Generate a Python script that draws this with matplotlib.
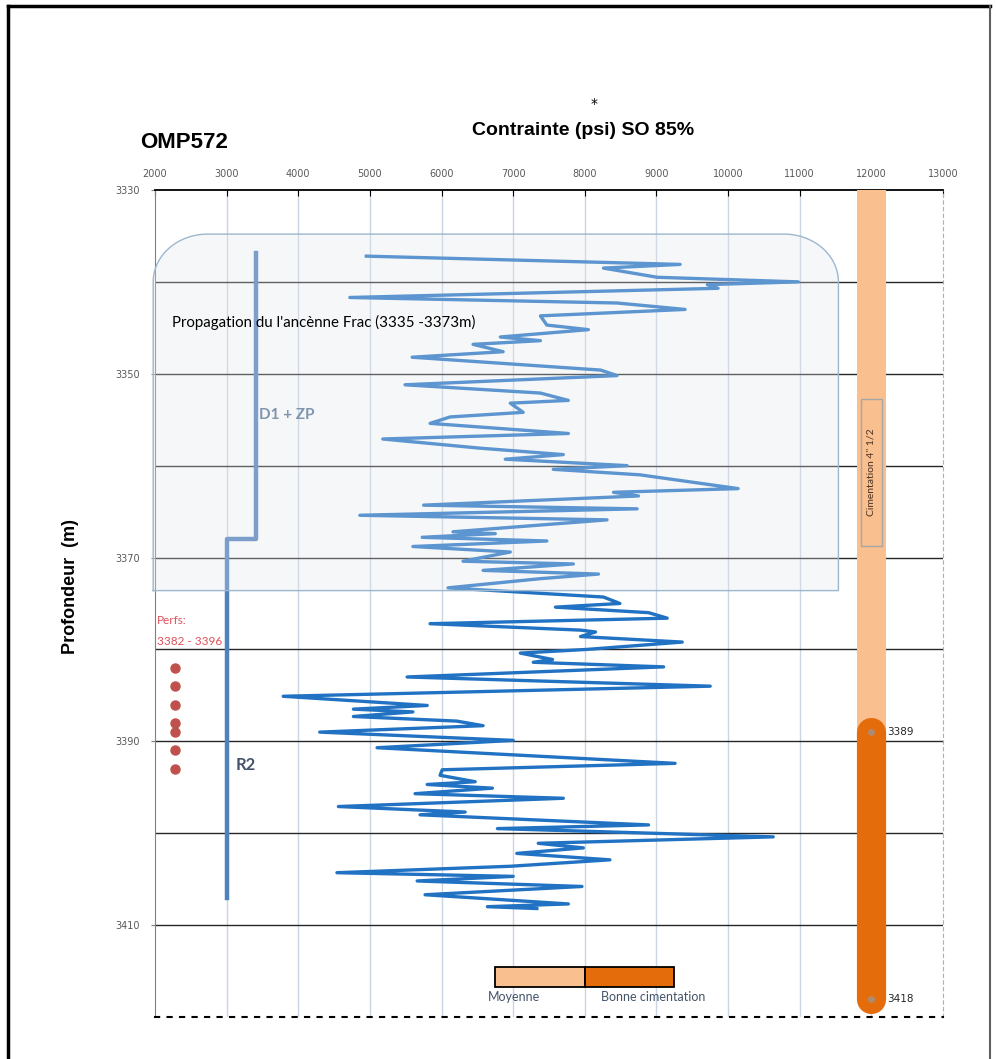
import matplotlib
matplotlib.use('Agg')
import matplotlib.pyplot as plt
from matplotlib.lines import Line2D
from matplotlib.patches import Rectangle
import numpy as np

# Stress log (psi) vs depth (m)
stress = [4950, 9330, 8260, 9010, 10980, 9710, 9860, 4720, 8450, 9400,
          7380, 7470, 8050, 6820, 7380, 6440, 6860, 5590, 8220, 8450,
          5490, 7380, 7770, 6960, 7140, 6120, 5840, 7770, 5180, 6540,
          7700, 6890, 8590, 7560, 8770, 10140, 8400, 8750, 5750, 8730,
          4860, 8310, 6160, 6750, 5730, 7470, 5600, 6960, 6300, 7840,
          6580, 8190, 7380, 6090, 8260, 8490, 7590, 8890, 9150, 5840,
          7940, 8150, 7940, 9360, 8030, 7100, 7550, 7280, 9100, 5520,
          9750, 3790, 5800, 4770, 5600, 4770, 6210, 6580, 4300, 7000,
          5100, 9260, 6010, 5980, 6470, 5800, 6710, 5630, 7700, 4560,
          6330, 5700, 8890, 6780, 10630, 7350, 7980, 7050, 8350, 6960,
          4540, 7000, 5660, 7960, 5770, 7770, 6640, 7330]
depth = [3337.2, 3338.1, 3338.5, 3339.5, 3340.0, 3340.3, 3340.7, 3341.7, 3342.3, 3343.0,
         3343.7, 3344.7, 3345.2, 3346.0, 3346.4, 3346.8, 3347.6, 3348.2, 3349.6, 3350.2,
         3351.2, 3352.1, 3352.9, 3353.2, 3354.2, 3354.7, 3355.4, 3356.5, 3357.1, 3358.1,
         3358.8, 3359.3, 3360.0, 3360.4, 3361.0, 3362.5, 3362.9, 3363.3, 3364.3, 3364.7,
         3365.4, 3365.9, 3367.2, 3367.4, 3367.8, 3368.2, 3368.8, 3369.4, 3370.4, 3370.7,
         3371.4, 3371.8, 3372.3, 3373.3, 3374.3, 3375.0, 3375.4, 3376.0, 3376.6, 3377.2,
         3377.9, 3378.1, 3378.6, 3379.2, 3380.0, 3380.4, 3381.1, 3381.4, 3381.9, 3383.0,
         3384.0, 3385.1, 3386.1, 3386.5, 3386.8, 3387.3, 3387.8, 3388.3, 3389.0, 3389.9,
         3390.7, 3392.4, 3393.1, 3393.7, 3394.4, 3394.7, 3395.1, 3395.7, 3396.2, 3397.1,
         3397.7, 3398.0, 3399.1, 3399.5, 3400.4, 3401.1, 3401.6, 3402.2, 3402.9, 3403.6,
         3404.3, 3404.7, 3405.2, 3405.8, 3406.7, 3407.7, 3408.0, 3408.2]

# zone outline (D1 + ZP, then R2)
zone_x = [3410, 3410, 3000, 3000]
zone_depth = [3336.9, 3368.0, 3368.0, 3407.1]

# perforations
perf_depth = [3382, 3384, 3386, 3388, 3389, 3391, 3393]
perf_x = 2280

# frac propagation box
frac_x = (1975, 11540)
frac_depth = (3334.8, 3373.6)

# cementation column
cem_x = 12000
cem_width = 400
cem_top = 3330
cem_good = (3389, 3418)

x_ticks = list(range(2000, 13001, 1000))
y_ticks = [3330, 3350, 3370, 3390, 3410]
h_lines = list(range(3340, 3411, 10))

light_orange = '#f9bf8f'
dark_orange = '#e46c0a'

fig = plt.figure(figsize=(9.96, 10.59), dpi=100)
ax = fig.add_axes([0.1556, 0.0397, 0.7912, 0.7809])

ax.set_xlim(2000, 13000)
ax.set_ylim(3420, 3330)

# grid
for xv in x_ticks[1:-1]:
    ax.axvline(xv, color='#c9d5e2', lw=1, zorder=1)
for hv in h_lines:
    ax.axhline(hv, color='#262626', lw=1, zorder=1.5)

# stress curve
ax.plot(stress, depth, color='#2272c3', lw=2.4, zorder=3, solid_joinstyle='round')

# zone line
ax.plot(zone_x, zone_depth, color='#4f81bd', lw=3.2, zorder=3)

# perforations
ax.plot([perf_x] * len(perf_depth), perf_depth, 'o', color='#c0504d', ms=6.5, zorder=3)
ax.text(2030, 3376.8, 'Perfs:', color='#e0505a', fontsize=8.5, va='center', zorder=5,
        family='Lato')
ax.text(2030, 3379.1, '3382 - 3396', color='#e0505a', fontsize=8.5, va='center', zorder=5,
        family='Lato')

# frac box with rounded top corners
x0, x1 = frac_x
y0, y1 = frac_depth
rx, ry = 760, 5.2
t1 = np.linspace(np.pi, 1.5 * np.pi, 30)
t2 = np.linspace(1.5 * np.pi, 2 * np.pi, 30)
bx = np.concatenate([[x0], x0 + rx + rx * np.cos(t1), x1 - rx + rx * np.cos(t2), [x1]])
by = np.concatenate([[y1], y0 + ry + ry * np.sin(t1), y0 + ry + ry * np.sin(t2), [y1]])
ax.fill(bx, by, facecolor='#e4e7eb', alpha=0.3, edgecolor='none', zorder=4, clip_on=False)
ax.plot(np.append(bx, bx[0]), np.append(by, by[0]), color='#9db7cf', lw=1, zorder=4,
        clip_on=False)
ax.text(2240, 3344.4, "Propagation du l'ancènne Frac (3335 -3373m)", fontsize=10.8,
        family='Lato', va='center', zorder=5)
ax.text(3450, 3354.5, 'D1 + ZP', fontsize=11, family='Lato', fontweight='bold',
        color='#7f95ad', va='center', zorder=5)
ax.text(3130, 3392.6, 'R2', fontsize=12, family='Lato', fontweight='bold',
        color='#44546a', va='center', zorder=5)

# cementation column
ax.bar(cem_x, cem_good[0] - cem_top, bottom=cem_top, width=cem_width,
       color=light_orange, zorder=6)
ax.plot([cem_x, cem_x], list(cem_good), color=dark_orange, lw=21,
        solid_capstyle='round', zorder=7)
ax.plot([cem_x, cem_x], list(cem_good), 'o', color='#b08a70', ms=4, zorder=8)
for d in cem_good:
    ax.text(cem_x + 220, d, str(d), fontsize=7.5, va='center', color='#262626', zorder=8)
ax.add_patch(Rectangle((cem_x - 150, 3352.7), 300, 16.0, facecolor='none',
                       edgecolor='#a6a6a6', lw=1, zorder=8))
ax.text(cem_x, 3360.7, "Cimentation 4'' 1/2", rotation=90, fontsize=7.5, family='Lato',
        ha='center', va='center', color='#4a3020', zorder=8)

# legend boxes
ax.add_patch(Rectangle((6750, 3414.6), 1250, 2.1, facecolor=light_orange,
                       edgecolor='black', lw=1.3, zorder=6))
ax.add_patch(Rectangle((8000, 3414.6), 1250, 2.1, facecolor=dark_orange,
                       edgecolor='black', lw=1.3, zorder=6))
ax.text(6650, 3417.8, 'Moyenne', fontsize=9, family='Lato', color='#44546a', va='center')
ax.text(8220, 3417.8, 'Bonne cimentation', fontsize=9, family='Lato', color='#44546a',
        va='center')

# axes styling
ax.xaxis.tick_top()
ax.set_xticks(x_ticks)
ax.set_xticklabels([str(v) for v in x_ticks])
ax.set_yticks(y_ticks)
ax.set_yticklabels([str(v) for v in y_ticks])
ax.tick_params(axis='x', direction='in', length=4, color='black', pad=8,
               labelsize=7, labelcolor='#595959')
ax.tick_params(axis='y', direction='out', length=3, color='#808080', pad=8,
               labelsize=7, labelcolor='#595959')
ax.spines['top'].set_color('black')
ax.spines['top'].set_linewidth(1.3)
ax.spines['left'].set_color('#808080')
ax.spines['right'].set_color('#b0b0b0')
ax.spines['right'].set_linestyle((0, (3, 3)))
ax.spines['bottom'].set_color('black')
ax.spines['bottom'].set_linewidth(1.5)
ax.spines['bottom'].set_linestyle((0, (2, 4)))

ax.set_ylabel('Profondeur  (m)', fontsize=13, fontweight='bold', family='Liberation Sans')
ax.yaxis.set_label_coords(-0.097, 0.52)

fig.text(0.141, 0.865, 'OMP572', fontsize=16, fontweight='bold', family='Liberation Sans',
         va='center')
fig.text(0.585, 0.877, 'Contrainte (psi) SO 85%', fontsize=14, fontweight='bold',
         family='Liberation Sans', ha='center', va='center')
fig.text(0.596, 0.902, '*', fontsize=10, ha='center', va='center')

# outer frame
frame = dict(color='black', lw=2.5)
fig.add_artist(Line2D([0.008, 0.008], [0.0, 0.9943], **frame))
fig.add_artist(Line2D([0.008, 0.994], [0.9943, 0.9943], **frame))
fig.add_artist(Line2D([0.994, 0.994], [0.0, 0.9943], color='#606060', lw=1.5))

fig.savefig('out.png', dpi=100)
